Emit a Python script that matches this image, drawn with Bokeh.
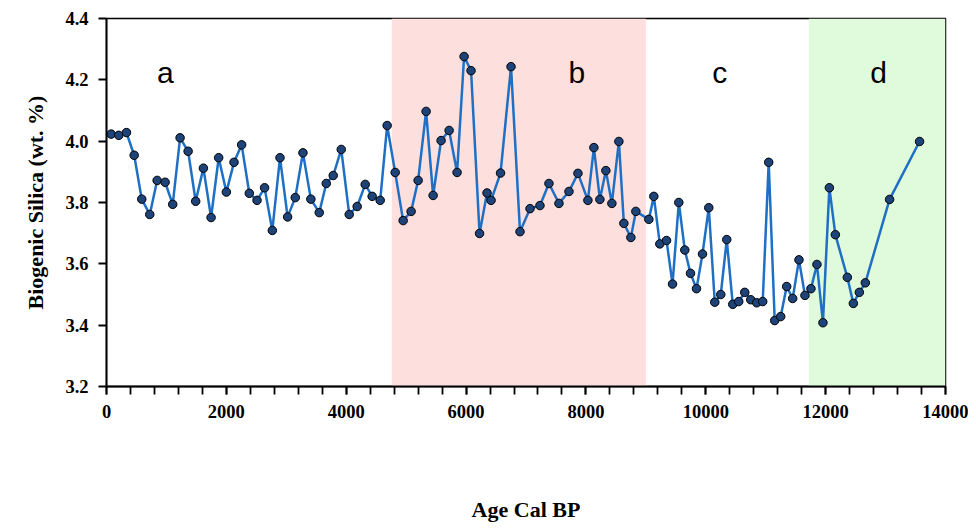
from bokeh.plotting import figure
from bokeh.models import (Range1d, BoxAnnotation, SingleIntervalTicker, FixedTicker,
                          ColumnDataSource, NumeralTickFormatter, LinearAxis)
from bokeh.core.properties import value
from bokeh.embed import file_html
from bokeh.resources import INLINE

# Data
age_bp = [78, 205, 333, 462, 588, 722, 845, 978, 1105, 1228,
          1362, 1488, 1617, 1745, 1872, 2000, 2128, 2255, 2383, 2512,
          2638, 2767, 2895, 3022, 3150, 3278, 3410, 3550, 3667, 3783,
          3917, 4050, 4183, 4317, 4433, 4567, 4683, 4817, 4950, 5083,
          5200, 5333, 5450, 5583, 5717, 5850, 5967, 6083, 6225, 6350,
          6417, 6575, 6750, 6900, 7067, 7233, 7383, 7550, 7717, 7867,
          8033, 8133, 8233, 8333, 8433, 8550, 8633, 8750, 8833, 9050,
          9133, 9233, 9345, 9445, 9550, 9650, 9745, 9845, 9945, 10050,
          10150, 10250, 10350, 10450, 10550, 10650, 10750, 10850, 10950, 11050,
          11150, 11250, 11350, 11450, 11555, 11655, 11755, 11855, 11955, 12062,
          12162, 12362, 12462, 12562, 12662, 13067, 13567]
silica = [4.023, 4.019, 4.028, 3.954, 3.811, 3.761, 3.872, 3.866, 3.794, 4.011,
          3.967, 3.804, 3.912, 3.751, 3.946, 3.834, 3.931, 3.988, 3.830, 3.807,
          3.848, 3.709, 3.946, 3.753, 3.816, 3.962, 3.811, 3.767, 3.862, 3.888,
          3.973, 3.761, 3.787, 3.859, 3.820, 3.807, 4.051, 3.898, 3.741, 3.771,
          3.872, 4.097, 3.823, 4.002, 4.035, 3.898, 4.276, 4.230, 3.699, 3.831,
          3.807, 3.896, 4.243, 3.705, 3.780, 3.790, 3.862, 3.797, 3.836, 3.895,
          3.807, 3.979, 3.810, 3.904, 3.797, 3.999, 3.732, 3.686, 3.771, 3.745,
          3.820, 3.665, 3.676, 3.534, 3.800, 3.645, 3.569, 3.519, 3.632, 3.783,
          3.475, 3.500, 3.679, 3.468, 3.477, 3.507, 3.483, 3.473, 3.477, 3.931,
          3.415, 3.428, 3.526, 3.487, 3.613, 3.497, 3.519, 3.598, 3.408, 3.848,
          3.695, 3.556, 3.471, 3.507, 3.538, 3.810, 3.999]

zone_names = ["a", "b", "c", "d"]
zone_label_x = [983, 7850, 10233, 12883]
zone_label_y = 4.224
pink_zone = (4760, 9000)
green_zone = (11720, 14000)
y_ticks = [3.2, 3.4, 3.6, 3.8, 4.0, 4.2, 4.4]

p = figure(width=968, height=524, output_backend="svg", toolbar_location=None,
           x_axis_location=None, y_axis_location=None,
           x_range=Range1d(0, 14000), y_range=Range1d(3.2, 4.4),
           min_border_left=106, min_border_right=23, min_border_top=18, min_border_bottom=138)
p.outline_line_color = "black"
p.outline_line_width = 1.5
p.xgrid.visible = False
p.ygrid.visible = False

p.add_layout(BoxAnnotation(left=pink_zone[0], right=pink_zone[1], fill_color="#FDE0DE",
                           fill_alpha=1.0, line_color=None, level="underlay"))
p.add_layout(BoxAnnotation(left=green_zone[0], right=green_zone[1], fill_color="#DFFBDC",
                           fill_alpha=1.0, line_color=None, level="underlay"))

src = ColumnDataSource(dict(x=age_bp, y=silica))
p.line("x", "y", source=src, line_color="#1F6FC4", line_width=2.5)
p.scatter("x", "y", source=src, size=8.5, fill_color="#1E4378", line_color="black", line_width=1)

lab_src = ColumnDataSource(dict(x=zone_label_x, y=[zone_label_y] * len(zone_names), t=zone_names))
p.text("x", "y", text="t", source=lab_src, text_font=value("Liberation Sans"),
       text_font_size="30px", text_align="center", text_baseline="alphabetic", text_color="black")

axis_style = dict(
    axis_line_color="black", axis_line_width=1.8,
    major_tick_line_color="black", major_tick_line_width=1.8,
    major_tick_in=0, major_tick_out=8,
    major_label_text_font="Liberation Serif", major_label_text_font_style="bold",
    major_label_text_font_size="18.5px", major_label_text_color="black",
    axis_label_text_font="Liberation Serif", axis_label_text_font_style="bold",
    axis_label_text_font_size="22px", axis_label_text_color="black",
    major_label_standoff=10,
)

xax = LinearAxis(ticker=SingleIntervalTicker(interval=2000, num_minor_ticks=5),
                 formatter=NumeralTickFormatter(format="0"),
                 axis_label="Age Cal BP", axis_label_standoff=76,
                 minor_tick_line_color="black", minor_tick_line_width=1.8,
                 minor_tick_in=0, minor_tick_out=8, **axis_style)
yax = LinearAxis(ticker=FixedTicker(ticks=y_ticks),
                 formatter=NumeralTickFormatter(format="0.0"),
                 axis_label="Biogenic Silica (wt. %)", axis_label_standoff=14,
                 minor_tick_line_color=None, **axis_style)
p.add_layout(xax, "below")
p.add_layout(yax, "left")

open("out.html", "w").write(file_html(p, INLINE))
